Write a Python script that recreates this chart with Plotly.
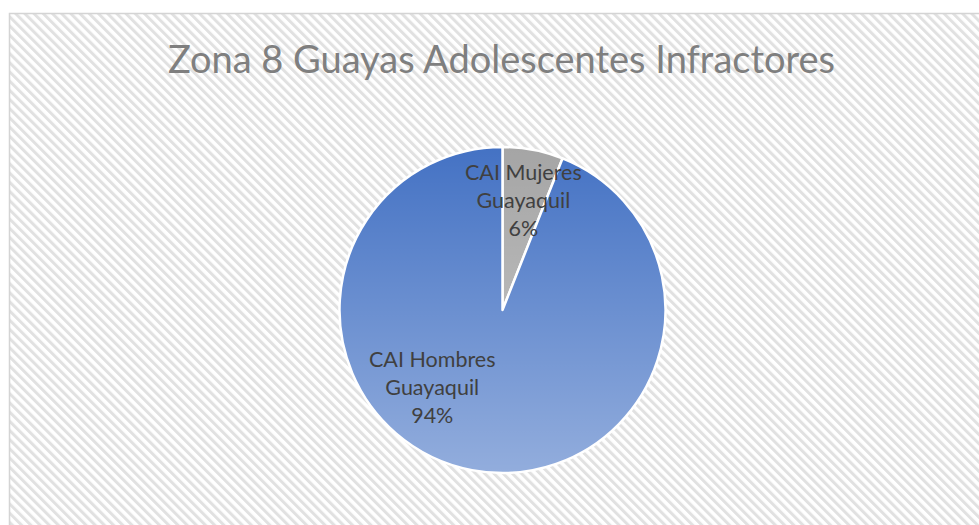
import math
import base64
import plotly.graph_objects as go

W, H = 979, 525

title_text = "Zona 8 Guayas Adolescentes Infractores"
categories = ["CAI Mujeres Guayaquil", "CAI Hombres Guayaquil"]
label_lines = ["CAI Mujeres<br>Guayaquil", "CAI Hombres<br>Guayaquil"]
values = [6, 94]
slice_colors = ["#a5a5a5", "#4472c4"]

# pie placement (pixels)
pie_cx, pie_cy, pie_r = 502.5, 310.0, 163.0
dom_x = [(pie_cx - pie_r) / W, (pie_cx + pie_r) / W]
dom_y = [1 - (pie_cy + pie_r) / H, 1 - (pie_cy - pie_r) / H]

fig = go.Figure()
fig.add_trace(go.Pie(
    labels=categories,
    values=values,
    sort=False,
    direction="clockwise",
    rotation=0,
    marker=dict(colors=slice_colors, line=dict(color="white", width=2.5)),
    textinfo="none",
    hoverinfo="label+percent",
    domain=dict(x=dom_x, y=dom_y),
    showlegend=False,
))

# data labels placed in polar terms around the pie
total = sum(values)
pcts = [v / total for v in values]
label_angle_offset = [0.0, 31.7]   # degrees from slice mid-angle
label_radius_frac = [0.69, 0.64]
start = 0.0
annotations = []
for i, v in enumerate(values):
    span = 360.0 * v / total
    mid = start + span / 2 + label_angle_offset[i]
    start += span
    rr = label_radius_frac[i] * pie_r
    px = pie_cx + rr * math.sin(math.radians(mid))
    py = pie_cy - rr * math.cos(math.radians(mid))
    annotations.append(dict(
        x=px / W, y=1 - py / H, xref="paper", yref="paper",
        text=f"{label_lines[i]}<br>{round(pcts[i]*100)}%",
        showarrow=False, align="center",
        font=dict(family="Lato", size=21.5, color="#404040"),
        xanchor="center", yanchor="middle",
    ))

# hatched chart-area background with border
bg_svg = (
    f"<svg xmlns='http://www.w3.org/2000/svg' width='{W}' height='{H}' viewBox='0 0 {W} {H}'>"
    "<defs><pattern id='p' width='6.5' height='20' patternUnits='userSpaceOnUse' "
    "patternTransform='rotate(-45)'><rect x='0' y='0' width='3' height='20' fill='#e1e1e1'/></pattern></defs>"
    f"<rect x='0' y='0' width='{W}' height='{H}' fill='white'/>"
    f"<rect x='9.5' y='13.5' width='{W+20}' height='{H+20}' fill='url(#p)' stroke='#d4d4d4' stroke-width='1.5'/>"
    "</svg>"
)
bg_uri = "data:image/svg+xml;base64," + base64.b64encode(bg_svg.encode()).decode()

# vertical light gradient over the pie (Excel-style shading)
shade_svg = (
    "<svg xmlns='http://www.w3.org/2000/svg' width='100' height='100' viewBox='0 0 100 100'>"
    "<defs><linearGradient id='g' x1='0' y1='0' x2='0' y2='1'>"
    "<stop offset='0' stop-color='white' stop-opacity='0'/>"
    "<stop offset='1' stop-color='white' stop-opacity='0.42'/></linearGradient></defs>"
    "<circle cx='50' cy='50' r='50' fill='url(#g)'/></svg>"
)
shade_uri = "data:image/svg+xml;base64," + base64.b64encode(shade_svg.encode()).decode()

fig.update_layout(
    width=W, height=H,
    margin=dict(l=0, r=0, t=0, b=0),
    paper_bgcolor="white",
    plot_bgcolor="white",
    title=dict(
        text=title_text, x=501.5 / W, xanchor="center",
        y=1 - 60 / H, yanchor="middle",
        font=dict(family="Lato", size=38, color="#7f7f7f"),
    ),
    images=[
        dict(source=bg_uri, xref="paper", yref="paper", x=0, y=1,
             sizex=1, sizey=1, xanchor="left", yanchor="top",
             sizing="stretch", layer="below"),
        dict(source=shade_uri, xref="paper", yref="paper",
             x=dom_x[0], y=dom_y[1], sizex=dom_x[1] - dom_x[0], sizey=dom_y[1] - dom_y[0],
             xanchor="left", yanchor="top", sizing="stretch", layer="above"),
    ],
    annotations=annotations,
)

fig.write_html("out.html", config={"displayModeBar": False},
               post_script="document.body.style.margin='0';")
